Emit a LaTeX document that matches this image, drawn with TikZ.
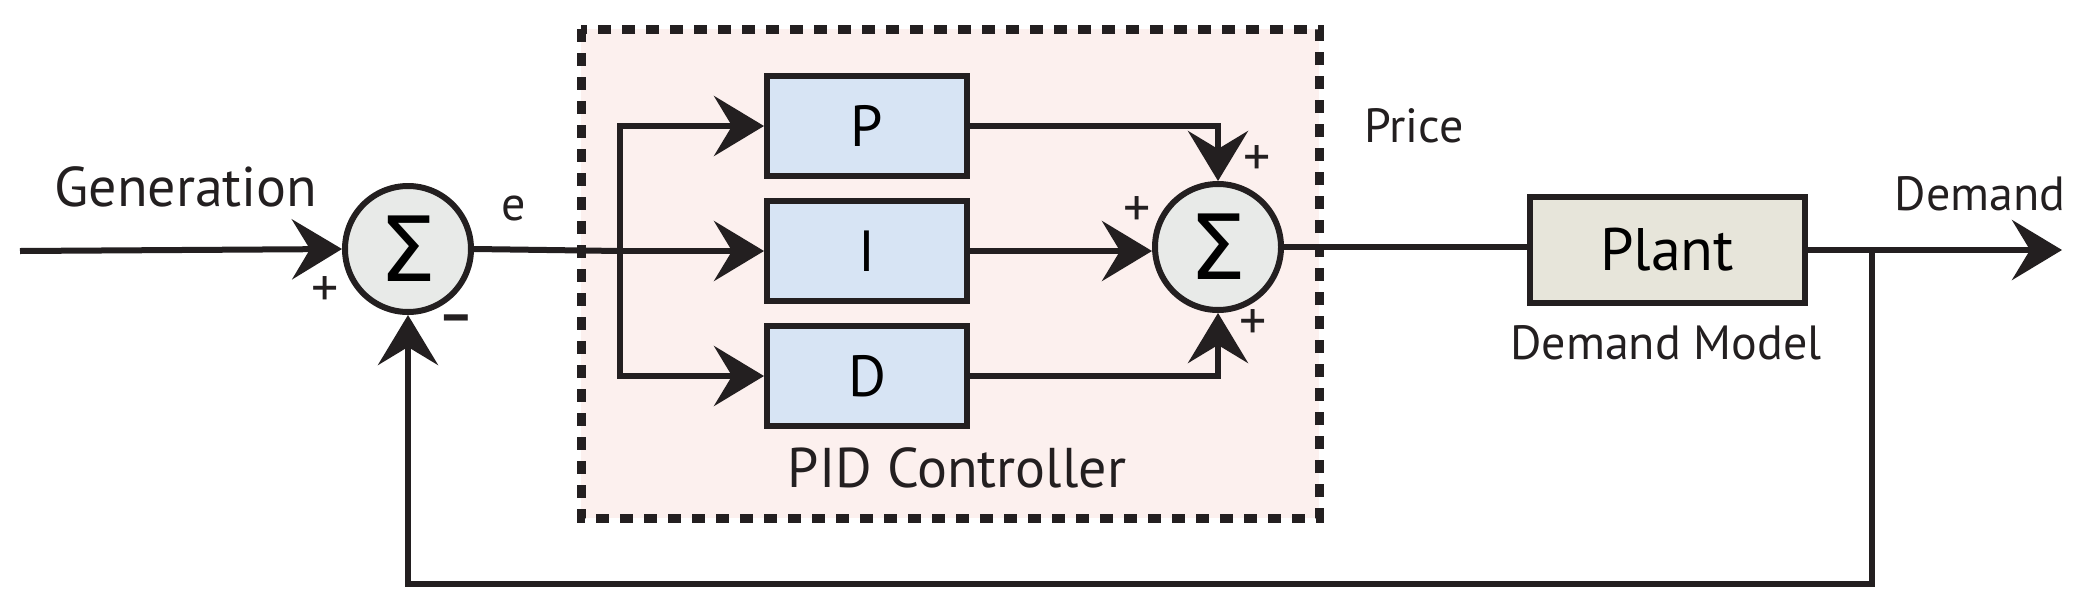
\documentclass[tikz,border=0pt]{standalone}
\usepackage{fontspec}
\setmainfont{PT Sans}
\newfontfamily\sigmafont{DejaVu Sans}
\usetikzlibrary{arrows.meta}
\definecolor{pidbg}{HTML}{FCF0EE}
\definecolor{blk}{HTML}{D7E4F4}
\definecolor{plantc}{HTML}{E7E5DA}
\definecolor{sumc}{HTML}{E8EAE8}
\definecolor{ink}{HTML}{231F20}
\begin{document}
\begin{tikzpicture}[x=1pt,y=-1pt,
  line width=6pt, draw=ink,
  >={Stealth[length=50pt,width=60pt,inset=18pt]},
  sum/.style={circle,draw=ink,fill=sumc,line width=6pt,minimum size=126pt,inner sep=0pt,font=\sigmafont\fontsize{90}{90}\selectfont},
  blkbox/.style={rectangle,draw=ink,fill=blk,line width=6pt,minimum width=200pt,minimum height=100pt,font=\fontsize{58}{58}\selectfont},
  lbl/.style={font=\fontsize{56}{56}\selectfont,text=ink},
  slbl/.style={font=\fontsize{48}{48}\selectfont,text=ink},
  sign/.style={font=\fontsize{54}{54}\selectfont,text=ink}]
\useasboundingbox (0,0) rectangle (2096,611);
\fill[pidbg] (581,29) rectangle (1319,518);
\draw[line width=9pt,dash pattern=on 13pt off 11pt] (581,29) rectangle (1319,518);
\node[sum] (s1) at (408,249) {Σ};
\node[sum] (s2) at (1218,247) {Σ};
\node[blkbox] (P) at (867,126) {P};
\node[blkbox] (I) at (867,251) {I};
\node[blkbox] (D) at (867,376) {D};
\node[rectangle,draw=ink,fill=plantc,line width=6pt,minimum width=275pt,minimum height=106pt,font=\fontsize{60}{60}\selectfont] (plant) at (1667,250) {Plant};
\coordinate (in) at (20,251);
\coordinate (out) at (2062,250);
\coordinate (br) at (620,251);
\coordinate (fb) at (1872,250);
\node[lbl] (gen) at (186,187) {Generation};
\node[slbl] (e) at (514,208) {e};
\node[sign] (p1) at (325,292) {+};
\node[sign] (m1) at (456,324) {\textbf{–}};
\node[lbl] (pid) at (957,468) {PID Controller};
\node[slbl] (price) at (1414,126) {Price};
\node[slbl] (dem) at (1980,194) {Demand};
\node[slbl] (dm) at (1666,343) {Demand Model};
\node[sign] (p2) at (1257,161) {+};
\node[sign] (p3) at (1137,212) {+};
\node[sign] (p4) at (1253,325) {+};
\draw[->] (in) -- (s1.west);
\draw (s1.east) -- (br);
\draw[->] (br) -- (I.west);
\draw[->] (br) |- (P.west);
\draw[->] (br) |- (D.west);
\draw[->] (P.east) -| (s2.north);
\draw[->] (I.east) -- (I.east -| s2.west);
\draw[->] (D.east) -| (s2.south);
\draw (s2.east) -- (s2.east -| plant.west);
\draw[->] (plant.east) -- (out);
\draw[->] (fb) -- (1872,584) -| (s1.south);
\end{tikzpicture}
\end{document}
